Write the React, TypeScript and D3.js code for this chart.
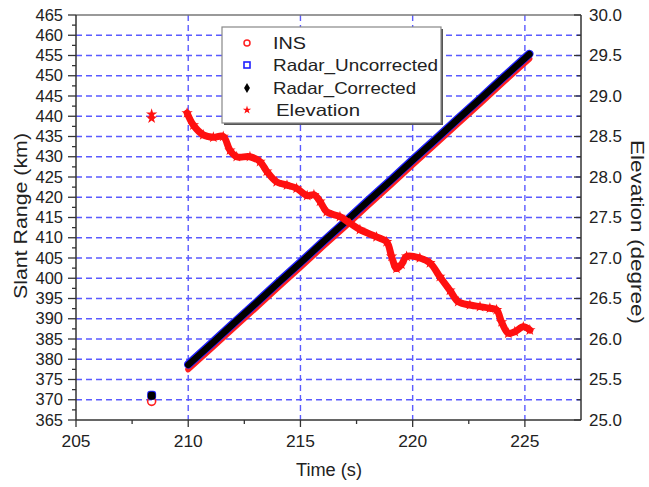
import React from "react";
import * as d3 from "d3";

// ---- data ----
const radarTimes = [210, 211, 212, 213, 214, 215, 216, 217, 218, 219, 220, 221, 222, 223, 224, 225, 225.2];
const radarCorrected = [378.6, 383.6, 388.7, 393.7, 398.8, 403.8, 408.9, 413.9, 419.0, 424.0, 429.1, 434.1, 439.2, 444.2, 449.3, 454.3, 455.3];
const radarUncorrected = [378.7, 383.7, 388.8, 393.8, 398.9, 403.9, 409.0, 414.0, 419.1, 424.1, 429.2, 434.2, 439.3, 444.3, 449.4, 454.4, 455.4];
const insValues = [377.5, 382.5, 387.6, 392.6, 397.7, 402.7, 407.8, 412.8, 417.9, 422.9, 428.0, 433.0, 438.1, 443.1, 448.2, 453.2, 454.2];

const earlyTime = [208.37];
const earlyRadarCorrected = [371.0];
const earlyRadarUncorrected = [371.1];
const earlyIns = [369.6];
const earlyElevation = [28.75];

const elevTimes = [209.95, 210.23, 210.67, 211.12, 211.56, 211.86, 212.16, 212.75, 213.2, 213.5, 213.94, 214.4, 214.83, 215.3, 215.6, 215.87, 216.17, 216.76, 217.2, 217.65, 218.39, 218.84, 219.06, 219.28, 219.5, 219.73, 220.32, 220.77, 221.21, 221.66, 222.03, 222.55, 223.0, 223.44, 223.74, 223.96, 224.26, 224.55, 224.93, 225.22];
const elevValues = [28.79, 28.64, 28.52, 28.49, 28.5, 28.33, 28.25, 28.25, 28.19, 28.07, 27.94, 27.9, 27.86, 27.77, 27.78, 27.7, 27.57, 27.51, 27.43, 27.35, 27.26, 27.2, 27.02, 26.87, 26.92, 27.02, 27.0, 26.94, 26.77, 26.6, 26.46, 26.42, 26.4, 26.38, 26.36, 26.21, 26.07, 26.09, 26.15, 26.11];

const xTicks = [205, 210, 215, 220, 225];
const yLeftTicks = [365, 370, 375, 380, 385, 390, 395, 400, 405, 410, 415, 420, 425, 430, 435, 440, 445, 450, 455, 460, 465];
const yRightTicks = [25.0, 25.5, 26.0, 26.5, 27.0, 27.5, 28.0, 28.5, 29.0, 29.5, 30.0];

const legendItems = ["INS", "Radar_Uncorrected", "Radar_Corrected", "Elevation"];

export default function App() {
  const L = 76, R = 581, T = 15, B = 420;
  const x = d3.scaleLinear([205, 227.5], [L, R]);
  const yL = d3.scaleLinear([365, 465], [B, T]);
  const yR = d3.scaleLinear([25, 30], [B, T]);
  const font = "'Liberation Sans', Arial, sans-serif";
  const gridColor = "#4a4aff";
  const axisColor = "#333";

  const lineL = (vals: number[]) =>
    d3.line<number>().x((_, i) => x(radarTimes[i])).y((v) => yL(v))(vals) || "";
  const elevLine = d3
    .line<number>()
    .x((_, i) => x(elevTimes[i]))
    .y((v) => yR(v))
    .curve(d3.curveCatmullRom)(elevValues) || "";

  const star = d3.symbol(d3.symbolStar, 40)() || "";
  const starSmall = d3.symbol(d3.symbolStar, 22)() || "";
  const diamond = d3.symbol(d3.symbolDiamond, 30)() || "";

  const minorL = d3.range(367.5, 465, 5);
  const minorX = d3.range(207.5, 227.5, 5);
  const minorR = d3.range(25.25, 30, 0.5);
  const sx = 1.13; // horizontal stretch of the reference's lettering

  return (
    <svg width={649} height={487} style={{ position: "absolute", left: 0, top: 0, background: "#fff" }}>
      <rect x={0} y={0} width={649} height={487} fill="#fff" />
      {/* grid */}
      <g stroke={gridColor} strokeWidth={1.4} strokeDasharray="6,4" opacity={0.9}>
        {yLeftTicks.filter((v) => v > 365 && v < 465).map((v) => (
          <line key={"h" + v} x1={L} x2={R} y1={yL(v)} y2={yL(v)} />
        ))}
        {xTicks.filter((v) => v > 205).map((v) => (
          <line key={"v" + v} x1={x(v)} x2={x(v)} y1={T} y2={B} />
        ))}
      </g>

      {/* INS */}
      <path d={lineL(insValues)} fill="none" stroke="#ff2020" strokeWidth={6} strokeLinecap="round" />
      {/* Radar uncorrected */}
      <path d={lineL(radarUncorrected)} fill="none" stroke="#2020ff" strokeWidth={8.5} strokeLinecap="round" />
      {/* Radar corrected */}
      <path d={lineL(radarCorrected)} fill="none" stroke="#000" strokeWidth={6.5} strokeLinecap="round" />

      {/* early cluster */}
      {earlyTime.map((t, i) => (
        <g key={"e" + i}>
          <circle cx={x(t)} cy={yL(earlyIns[i])} r={4} fill="none" stroke="#ff2020" strokeWidth={1.6} />
          <rect x={x(t) - 4.5} y={yL(earlyRadarUncorrected[i]) - 4.5} width={9} height={9} rx={3} fill="#2020ff" />
          <rect x={x(t) - 3.8} y={yL(earlyRadarCorrected[i]) - 4} width={7.6} height={8} rx={3} fill="#000" />
          <path d={star} transform={`translate(${x(t)},${yR(earlyElevation[i]) - 2})`} fill="#ff1010" />
          <path d={star} transform={`translate(${x(t)},${yR(earlyElevation[i]) + 2})`} fill="#ff1010" />
        </g>
      ))}

      {/* Elevation */}
      <path d={elevLine} fill="none" stroke="#ff1010" strokeWidth={7} strokeLinecap="round" strokeLinejoin="round" />
      {elevValues.map((v, i) => (
        <path key={"s" + i} d={star} transform={`translate(${x(elevTimes[i])},${yR(v)})`} fill="#ff1010" />
      ))}

      {/* frame */}
      <line x1={L} x2={R} y1={T} y2={T} stroke="#777" strokeWidth={1.5} />
      <line x1={L} x2={L} y1={T} y2={B} stroke={axisColor} strokeWidth={1.5} />
      <line x1={R} x2={R} y1={T} y2={B} stroke={axisColor} strokeWidth={1.5} />
      <line x1={L} x2={R} y1={B} y2={B} stroke={axisColor} strokeWidth={1.5} />

      {/* ticks */}
      <g stroke={axisColor} strokeWidth={1.3}>
        {yLeftTicks.map((v) => (
          <line key={"lt" + v} x1={L - 8} x2={L} y1={yL(v)} y2={yL(v)} />
        ))}
        {minorL.map((v) => (
          <line key={"lm" + v} x1={L - 4} x2={L} y1={yL(v)} y2={yL(v)} />
        ))}
        {xTicks.map((v) => (
          <line key={"bt" + v} x1={x(v)} x2={x(v)} y1={B} y2={B + 7} />
        ))}
        {minorX.map((v) => (
          <line key={"bm" + v} x1={x(v)} x2={x(v)} y1={B} y2={B + 4} />
        ))}
        {yRightTicks.map((v) => (
          <line key={"rt" + v} x1={R - 7} x2={R} y1={yR(v)} y2={yR(v)} />
        ))}
        {minorR.map((v) => (
          <line key={"rm" + v} x1={R - 4} x2={R} y1={yR(v)} y2={yR(v)} />
        ))}
      </g>
      <g fontFamily={font} fontSize={16} fill="#222">
        {yLeftTicks.map((v) => (
          <text key={"ll" + v} x={L - 13} y={yL(v)} dy="0.35em" textAnchor="end" textLength={27.5} lengthAdjust="spacingAndGlyphs">{v}</text>
        ))}
        {xTicks.map((v) => (
          <text key={"bl" + v} x={x(v)} y={B + 27} textAnchor="middle" textLength={29} lengthAdjust="spacingAndGlyphs">{v}</text>
        ))}
        {yRightTicks.map((v) => (
          <text key={"rl" + v} x={R + 8} y={yR(v)} dy="0.35em" textAnchor="start" textLength={33} lengthAdjust="spacingAndGlyphs">{v.toFixed(1)}</text>
        ))}
      </g>

      {/* axis titles */}
      <text fontFamily={font} fontSize={18.5} fill="#222" textAnchor="middle" transform={`translate(27,216) rotate(-90)`} textLength={166} lengthAdjust="spacingAndGlyphs">Slant Range (km)</text>
      <text fontFamily={font} fontSize={18.5} fill="#222" textAnchor="middle" transform={`translate(631,232) rotate(90)`} textLength={184} lengthAdjust="spacingAndGlyphs">Elevation (degree)</text>
      <text fontFamily={font} fontSize={18} fill="#222" textAnchor="middle" x={329} y={476} textLength={66} lengthAdjust="spacingAndGlyphs">Time (s)</text>

      {/* legend */}
      <rect x={224} y={29} width={219} height={96} fill="#555" />
      <rect x={222} y={27} width={219} height={96} fill="#fff" stroke="#888" strokeWidth={1.2} />
      {legendItems.map((name, i) => {
        const cy = [43, 65, 88, 110][i];
        const w = [33, 165, 143, 84][i];
        return (
          <g key={name}>
            {i === 0 && <circle cx={247} cy={cy} r={3} fill="none" stroke="#ff2020" strokeWidth={1.5} />}
            {i === 1 && <rect x={244} y={cy - 3} width={6} height={6} fill="none" stroke="#2020ff" strokeWidth={1.6} />}
            {i === 2 && <path d={diamond} transform={`translate(247,${cy})`} fill="#000" />}
            {i === 3 && <path d={starSmall} transform={`translate(247,${cy})`} fill="#ff1010" />}
            <text x={i === 3 ? 276 : 273} y={cy} dy="0.35em" fontFamily={font} fontSize={16.5} fill="#222" textLength={w} lengthAdjust="spacingAndGlyphs">{name}</text>
          </g>
        );
      })}
    </svg>
  );
}
